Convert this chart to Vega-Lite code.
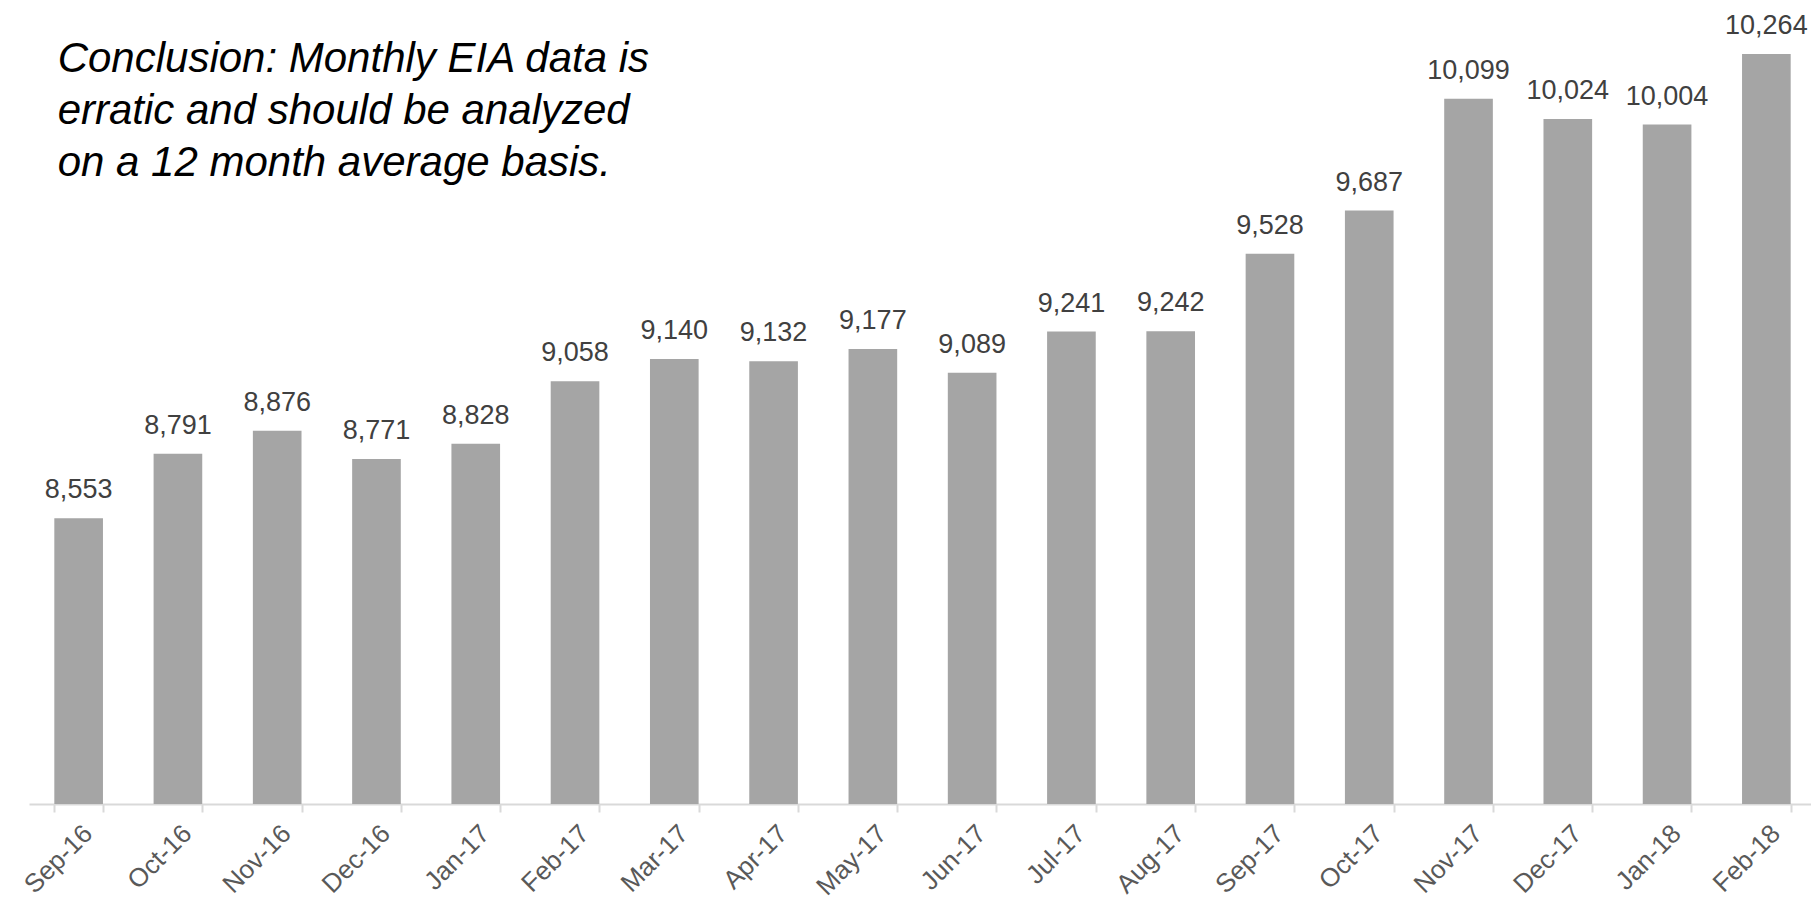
{
  "$schema": "https://vega.github.io/schema/vega-lite/v6.json",
  "width": 1787,
  "height": 804,
  "autosize": {"type": "none"},
  "padding": {"left": 29, "top": 0, "right": 0, "bottom": 96},
  "background": "white",
  "config": {"view": {"stroke": null}, "font": "Liberation Sans"},
  "datasets": {
    "prod": [
      {"month": "Sep-16", "value": 8553},
      {"month": "Oct-16", "value": 8791},
      {"month": "Nov-16", "value": 8876},
      {"month": "Dec-16", "value": 8771},
      {"month": "Jan-17", "value": 8828},
      {"month": "Feb-17", "value": 9058},
      {"month": "Mar-17", "value": 9140},
      {"month": "Apr-17", "value": 9132},
      {"month": "May-17", "value": 9177},
      {"month": "Jun-17", "value": 9089},
      {"month": "Jul-17", "value": 9241},
      {"month": "Aug-17", "value": 9242},
      {"month": "Sep-17", "value": 9528},
      {"month": "Oct-17", "value": 9687},
      {"month": "Nov-17", "value": 10099},
      {"month": "Dec-17", "value": 10024},
      {"month": "Jan-18", "value": 10004},
      {"month": "Feb-18", "value": 10264}
    ],
    "note": [
      {"month": "Sep-16", "value": 10197, "text": ["Conclusion: Monthly EIA data is", "erratic and should be analyzed", "on a 12 month average basis."]}
    ]
  },
  "layer": [
    {
      "data": {"name": "prod"},
      "mark": {"type": "bar", "color": "#a5a5a5", "clip": true},
      "encoding": {
        "x": {
          "field": "month", "type": "ordinal", "sort": null,
          "scale": {"paddingInner": 0.51, "paddingOuter": 0.255},
          "axis": {
            "title": null,
            "labelAngle": -45,
            "labelFontSize": 26,
            "labelColor": "#595959",
            "labelPadding": 8,
            "domainColor": "#d9d9d9",
            "domainWidth": 2,
            "tickColor": "#d9d9d9",
            "tickWidth": 2,
            "tickSize": 8,
            "tickBand": "extent"
          }
        },
        "y": {
          "field": "value", "type": "quantitative",
          "scale": {"domain": [7500, 10463], "zero": false, "nice": false},
          "axis": null
        }
      }
    },
    {
      "data": {"name": "prod"},
      "mark": {"type": "text", "fontSize": 27, "color": "#404040", "baseline": "alphabetic", "dy": -20},
      "encoding": {
        "x": {"field": "month", "type": "ordinal", "sort": null},
        "y": {"field": "value", "type": "quantitative"},
        "text": {"field": "value", "type": "quantitative", "format": ","}
      }
    },
    {
      "data": {"name": "note"},
      "mark": {"type": "text", "fontSize": 42, "fontStyle": "italic", "color": "#000000", "align": "left", "baseline": "alphabetic", "lineHeight": 52, "dx": -21},
      "encoding": {
        "x": {"field": "month", "type": "ordinal", "sort": null},
        "y": {"field": "value", "type": "quantitative"},
        "text": {"field": "text"}
      }
    }
  ]
}
